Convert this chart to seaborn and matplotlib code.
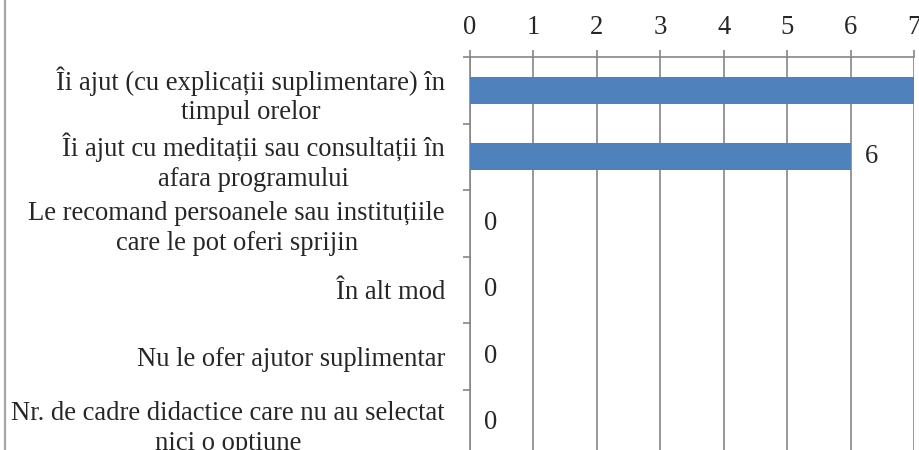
import pandas as pd
import matplotlib
matplotlib.use("Agg")
import matplotlib.pyplot as plt
from matplotlib.lines import Line2D
import seaborn as sns

sns.set_style("white")
plt.rcParams['font.family'] = ['Liberation Serif', 'DejaVu Serif']

# data
categories = [
    "Îi ajut (cu explicații suplimentare) în\ntimpul orelor",
    "Îi ajut cu meditații sau consultații în\nafara programului",
    "Le recomand persoanele sau instituțiile\ncare le pot oferi sprijin",
    "În alt mod",
    "Nu le ofer ajutor suplimentar",
    "Nr. de cadre didactice care nu au selectat\nnici o opțiune",
]
counts = [7, 6, 0, 0, 0, 0]
x_ticks = [0, 1, 2, 3, 4, 5, 6, 7]

df = pd.DataFrame({'raspuns': categories, 'nr': counts})

grey = '#868686'
fs = 19.2

fig = plt.figure(figsize=(9.2, 4.5), dpi=100)
ax = fig.add_axes([470 / 920, 1 - 456 / 450, 444 / 920, 399 / 450])

sns.barplot(data=df, x='nr', y='raspuns', orient='h', color='#4F81BD',
            saturation=1, width=0.4, ax=ax, zorder=3, linewidth=0)

ax.set_xlim(0, 7)
ax.set_ylim(5.5, -0.5)
ax.set_xticks(x_ticks)
ax.xaxis.tick_top()
ax.set_xlabel('')
ax.set_ylabel('')
ax.grid(axis='x', color=grey, lw=1.2, zorder=0)
ax.grid(axis='y', visible=False)

ax.tick_params(axis='x', which='both', top=True, bottom=False, length=5,
               width=1.2, color=grey, labelsize=fs, pad=7)
ax.tick_params(axis='y', which='major', length=0, labelsize=fs, pad=18)
ax.set_yticks([i - 0.5 for i in range(len(categories) + 1)], minor=True)
ax.tick_params(axis='y', which='minor', left=True, length=5, width=1.2, color=grey)

for lbl in ax.get_yticklabels():
    lbl.set_multialignment('center')
    lbl.set_linespacing(1.25)

for side in ['right', 'bottom']:
    ax.spines[side].set_visible(False)
for side in ['top', 'left']:
    ax.spines[side].set_color(grey)
    ax.spines[side].set_linewidth(1.2)

for c in ax.containers:
    ax.bar_label(c, padding=10, fontsize=fs)

fig.add_artist(Line2D([5 / 920, 5 / 920], [0, 1], transform=fig.transFigure,
                      color='#a6a6a6', lw=1.6))

fig.savefig('out.png', dpi=100)
